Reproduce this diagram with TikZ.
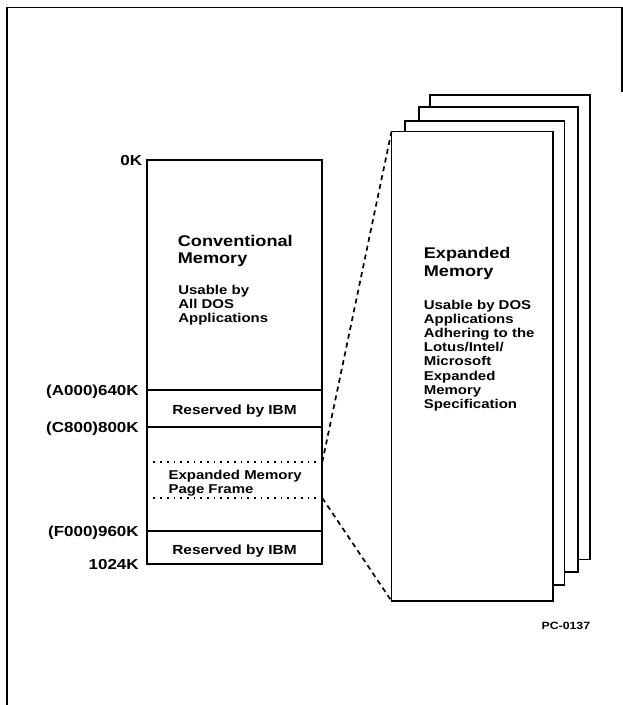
\documentclass[tikz,border=0pt]{standalone}
\usepackage{fontspec}
\setmainfont{Liberation Sans}[FakeStretch=1.17]
\begin{document}
\begin{tikzpicture}[x=1pt,y=-1pt, line width=1.7pt,
  box/.style={draw, fill=white, inner sep=0pt, outer sep=0pt},
  lbl/.style={font=\fontsize{14.5}{16}\selectfont\bfseries, anchor=base east, inner sep=0pt},
  title/.style={font=\fontsize{15.5}{17.5}\selectfont\bfseries, align=left, anchor=north west, inner sep=0pt},
  small/.style={font=\fontsize{12.8}{14.2}\selectfont\bfseries, align=left, anchor=north west, inner sep=0pt},
  resv/.style={font=\fontsize{13.2}{15}\selectfont\bfseries, anchor=base, inner sep=0pt},
  dots/.style={line width=1.9pt, dash pattern=on 1.7pt off 5pt},
  dashline/.style={line width=1.7pt, dash pattern=on 5pt off 4pt},
  frame/.style={line width=1.6pt}]
\useasboundingbox (0,0) rectangle (623,705);
% page frame
\coordinate (fbl) at (6.7,705);
\coordinate (ftl) at (6.7,7.5);
\coordinate (ftr) at (621.7,7.5);
\coordinate (fr) at (621.7,92);
\draw[frame] (fbl) -- (ftl) -- (ftr) -- (fr);
% stack of expanded memory pages (back to front)
\node[box, minimum width=160pt, minimum height=464.5pt] (p4) at (510,327.25) {};
\node[box, minimum width=159.3pt, minimum height=464.7pt] (p3) at (498.35,339.65) {};
\node[box, minimum width=159.8pt, minimum height=464.3pt] (p2) at (484.6,352.85) {};
\node[box, minimum width=161.2pt, minimum height=469.5pt] (front) at (472.1,366.25) {};
% conventional memory map
\node[box, minimum width=175.6pt, minimum height=404pt] (conv) at (234.5,362) {};
\coordinate (l640) at (146.7,390);
\coordinate (r640) at (322.3,390);
\coordinate (l800) at (146.7,427);
\coordinate (r800) at (322.3,427);
\coordinate (l960) at (146.7,531);
\coordinate (r960) at (322.3,531);
\coordinate (pft) at (146.7,462);
\coordinate (pftr) at (322.3,462);
\coordinate (pfb) at (146.7,498);
\coordinate (pfbr) at (322.3,498);
\draw (l640) -- (r640);
\draw (l800) -- (r800);
\draw (l960) -- (r960);
\draw[dots] (pft) -- (pftr);
\draw[dots] (pfb) -- (pfbr);
% connectors
\draw[dashline] (pftr) -- (front.north west);
\draw[dashline] (pfbr) -- (front.south west);
% address labels
\node[lbl] (k0) at (143,165.4) {0K};
\node[lbl] (k640) at (139.5,395.2) {(A000)640K};
\node[lbl] (k800) at (139.5,432.2) {(C800)800K};
\node[lbl] (k960) at (139.5,536.2) {(F000)960K};
\node[lbl] (k1024) at (139.5,569.2) {1024K};
% texts in the map
\node[title] (ct) at (177,234) {Conventional\\Memory};
\node[small] (cu) at (177.5,284) {Usable by\\All DOS\\Applications};
\node[resv] (r1) at (234.5,414) {Reserved by IBM};
\node[small] (pf) at (167.7,469) {Expanded Memory\\Page Frame};
\node[resv] (r2) at (234.5,554) {Reserved by IBM};
% texts in the expanded memory page
\node[title] (et) at (423,246.5) {Expanded\\Memory};
\node[small] (eu) at (423,299) {Usable by DOS\\Applications\\Adhering to the\\Lotus/Intel/\\Microsoft\\Expanded\\Memory\\Specification};
\node[font=\fontsize{10.5}{12}\selectfont\bfseries, anchor=base east, inner sep=0pt] (pc) at (591,629.5) {PC-0137};
\end{tikzpicture}
\end{document}
